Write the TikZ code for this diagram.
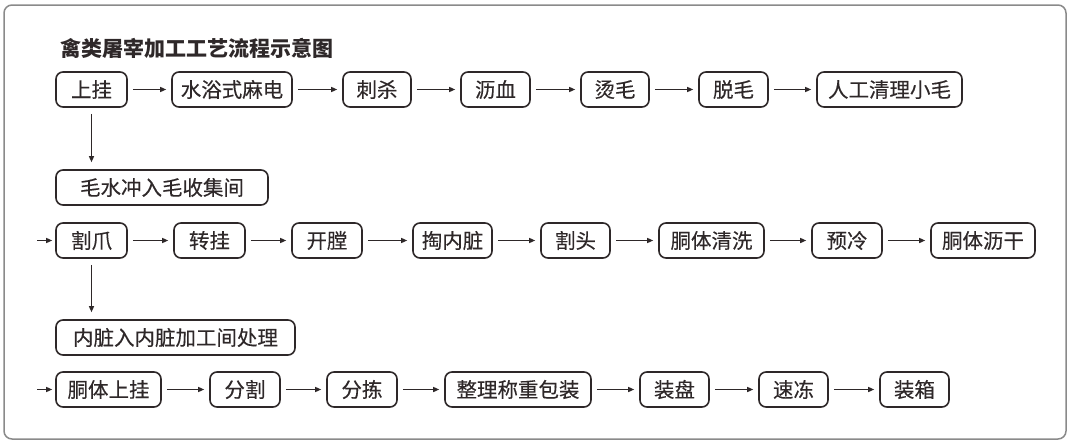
\documentclass[tikz,border=0pt]{standalone}
\usepackage{fontspec}
\setmainfont{Noto Sans CJK SC}
\newfontfamily\boxfont{Noto Sans CJK SC}[FakeBold=0.3]
\usetikzlibrary{arrows.meta}
\definecolor{ink}{HTML}{2E2829}
\definecolor{framegray}{HTML}{8A8A8A}
\tikzset{
  stepbox/.style={draw=ink, line width=1.6pt, rounded corners=7pt, minimum height=35pt, inner sep=0pt, text=ink, font=\boxfont\fontsize{20.5}{21}\selectfont},
  arr/.style={draw=ink, line width=1.3pt, -{Triangle[length=6pt,width=5pt]}, shorten <=5pt, shorten >=5pt},
  varr/.style={draw=ink, line width=1.3pt, -{Triangle[length=6pt,width=5pt]}, shorten <=6pt, shorten >=7pt},
  earr/.style={draw=ink, line width=1.3pt, -{Triangle[length=6pt,width=5pt]}, shorten >=3pt},
}
\begin{document}
\begin{tikzpicture}[x=1pt,y=-1pt]
\useasboundingbox (0,0) rectangle (1073,445);
\draw[framegray, line width=1.5pt, rounded corners=8pt] (4,5) rectangle (1066,439);
\node[anchor=west, text=ink, font=\fontsize{21}{22}\selectfont\bfseries, inner sep=0pt] (title) at (60,48) {禽类屠宰加工工艺流程示意图};
% row 1
\node[stepbox, minimum width=71] (a1) at (91.5,89.5) {上挂};
\node[stepbox, minimum width=120] (a2) at (232,89.5) {水浴式麻电};
\node[stepbox, minimum width=68] (a3) at (377,89.5) {刺杀};
\node[stepbox, minimum width=69] (a4) at (495.5,89.5) {沥血};
\node[stepbox, minimum width=68] (a5) at (615,89.5) {烫毛};
\node[stepbox, minimum width=69] (a6) at (733.5,89.5) {脱毛};
\node[stepbox, minimum width=145] (a7) at (889.5,89.5) {人工清理小毛};
\node[stepbox, minimum width=212] (m1) at (162,187.5) {毛水冲入毛收集间};
% row 2
\coordinate (e2) at (37,240.5);
\node[stepbox, minimum width=71] (b1) at (91.5,240.5) {割爪};
\node[stepbox, minimum width=71] (b2) at (209.5,240.5) {转挂};
\node[stepbox, minimum width=70] (b3) at (327,240.5) {开膛};
\node[stepbox, minimum width=79] (b4) at (452.5,240.5) {掏内脏};
\node[stepbox, minimum width=69] (b5) at (575.5,240.5) {割头};
\node[stepbox, minimum width=105] (b6) at (711.5,240.5) {胴体清洗};
\node[stepbox, minimum width=70] (b7) at (847,240.5) {预冷};
\node[stepbox, minimum width=104] (b8) at (983,240.5) {胴体沥干};
\node[stepbox, minimum width=239] (m2) at (175.5,337.5) {内脏入内脏加工间处理};
% row 3
\coordinate (e3) at (37,389.5);
\node[stepbox, minimum width=105] (c1) at (108.5,389.5) {胴体上挂};
\node[stepbox, minimum width=70] (c2) at (245,389.5) {分割};
\node[stepbox, minimum width=70] (c3) at (362,389.5) {分拣};
\node[stepbox, minimum width=146] (c4) at (518,389.5) {整理称重包装};
\node[stepbox, minimum width=69] (c5) at (674.5,389.5) {装盘};
\node[stepbox, minimum width=69] (c6) at (793.5,389.5) {速冻};
\node[stepbox, minimum width=69] (c7) at (914.5,389.5) {装箱};
% connectors
\foreach \p/\q in {a1/a2,a2/a3,a3/a4,a4/a5,a5/a6,a6/a7,b1/b2,b2/b3,b3/b4,b4/b5,b5/b6,b6/b7,b7/b8,c1/c2,c2/c3,c3/c4,c4/c5,c5/c6,c6/c7}
  \draw[arr] (\p) -- (\q);
\draw[varr] (a1.south) -- (a1.south |- m1.north);
\draw[varr] (b1.south) -- (b1.south |- m2.north);
\draw[earr] (e2) -- (b1);
\draw[earr] (e3) -- (c1);
\end{tikzpicture}
\end{document}
